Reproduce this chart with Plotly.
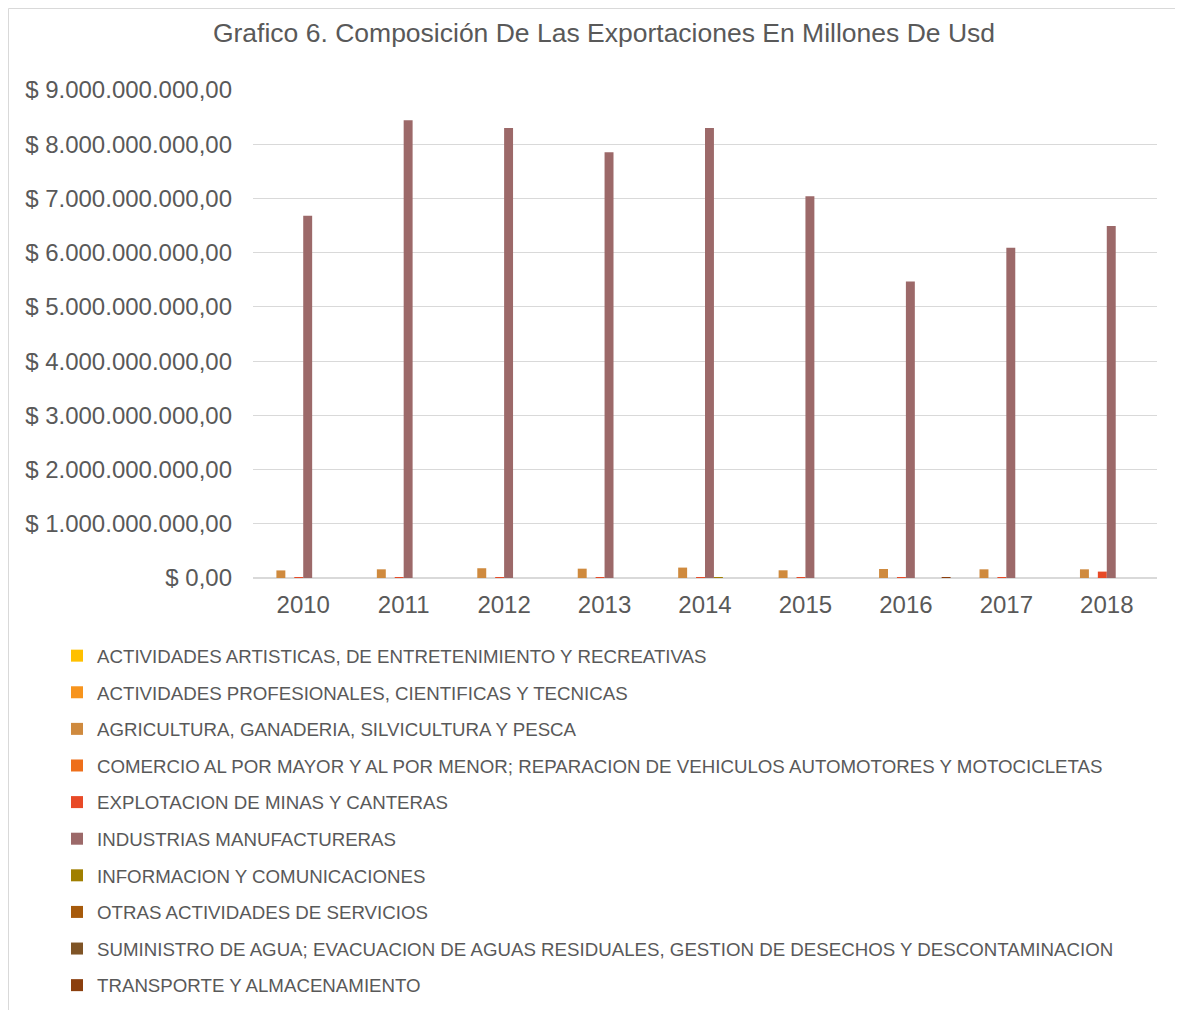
import plotly.graph_objects as go

years = ["2010", "2011", "2012", "2013", "2014", "2015", "2016", "2017", "2018"]

series_names = [
    "ACTIVIDADES ARTISTICAS, DE ENTRETENIMIENTO Y RECREATIVAS",
    "ACTIVIDADES PROFESIONALES, CIENTIFICAS Y TECNICAS",
    "AGRICULTURA, GANADERIA, SILVICULTURA Y PESCA",
    "COMERCIO AL POR MAYOR Y AL POR MENOR; REPARACION DE VEHICULOS AUTOMOTORES Y MOTOCICLETAS",
    "EXPLOTACION DE MINAS Y CANTERAS",
    "INDUSTRIAS MANUFACTURERAS",
    "INFORMACION Y COMUNICACIONES",
    "OTRAS ACTIVIDADES DE SERVICIOS",
    "SUMINISTRO DE AGUA; EVACUACION DE AGUAS RESIDUALES, GESTION DE DESECHOS Y DESCONTAMINACION",
    "TRANSPORTE Y ALMACENAMIENTO",
]

artisticas = [0, 0, 0, 0, 0, 0, 0, 0, 0]
profesionales = [0, 0, 0, 0, 0, 0, 0, 0, 0]
agricultura = [140e6, 160e6, 180e6, 172e6, 192e6, 142e6, 166e6, 160e6, 160e6]
comercio = [0, 0, 0, 0, 0, 0, 0, 0, 0]
explotacion = [14e6, 8e6, 12e6, 14e6, 14e6, 6e6, 18e6, 18e6, 118e6]
industrias = [6.68e9, 8.44e9, 8.30e9, 7.85e9, 8.30e9, 7.04e9, 5.47e9, 6.09e9, 6.49e9]
informacion = [0, 0, 0, 0, 15e6, 0, 0, 0, 0]
otras = [0, 0, 0, 0, 0, 0, 0, 0, 0]
suministro = [0, 0, 0, 0, 0, 0, 0, 0, 0]
transporte = [0, 0, 0, 0, 0, 0, 6e6, 0, 0]

series_values = [artisticas, profesionales, agricultura, comercio, explotacion,
                 industrias, informacion, otras, suministro, transporte]

colors = ["#FFC000", "#F7941D", "#CF8A3E", "#EE6F1A", "#E84A27",
          "#9C6969", "#A07F00", "#A65A0B", "#7F5426", "#8B3F0E"]

tick_vals = [0, 1e9, 2e9, 3e9, 4e9, 5e9, 6e9, 7e9, 8e9, 9e9]
tick_text = ["$ 0,00", "$ 1.000.000.000,00", "$ 2.000.000.000,00", "$ 3.000.000.000,00",
             "$ 4.000.000.000,00", "$ 5.000.000.000,00", "$ 6.000.000.000,00",
             "$ 7.000.000.000,00", "$ 8.000.000.000,00", "$ 9.000.000.000,00"]

FONT = "Liberation Sans, Arial, sans-serif"
GRAY = "#595959"

fig = go.Figure()
for i, (name, vals, col) in enumerate(zip(series_names, series_values, colors)):
    fig.add_trace(go.Bar(x=years, y=vals, name=name, marker_color=col,
                         marker_line_width=0, legendgroup=f"g{i}"))

# page body has an 8px margin: figure coords = screen coords - 8
W, H = 1175, 1002
L, R, T, B = 245, 26, 82, 432
pw, ph = W - L - R, H - T - B
base = H - B  # y of zero line in figure px

fig.update_layout(
    width=W, height=H,
    margin=dict(l=L, r=R, t=T, b=B, autoexpand=False),
    paper_bgcolor="white", plot_bgcolor="white",
    barmode="group", bargap=0.11, bargroupgap=0,
    font=dict(family=FONT, color=GRAY),
    title=dict(text="Grafico 6. Composición De Las Exportaciones En Millones De Usd",
               x=(596 - L) / pw, xref="paper", xanchor="center",
               y=1 - 25 / H, yanchor="middle",
               font=dict(size=26.5, color=GRAY, family=FONT)),
    xaxis=dict(showgrid=False, showline=False, ticks="", ticklabelstandoff=10,
               tickfont=dict(size=24, color=GRAY, family=FONT)),
    yaxis=dict(range=[0, 9e9], tickvals=tick_vals, ticktext=tick_text,
               showgrid=True, gridcolor="#D9D9D9", gridwidth=1,
               zeroline=True, zerolinecolor="#D9D9D9", zerolinewidth=2,
               showline=False, ticks="", ticklabelstandoff=20,
               tickfont=dict(size=24, color=GRAY, family=FONT)),
    legend=dict(orientation="v", x=(49 - L) / pw, xanchor="left",
                y=(base - 629) / ph, yanchor="top",
                font=dict(size=18.7, color=GRAY, family=FONT),
                tracegroupgap=9.3, itemwidth=30, bgcolor="rgba(0,0,0,0)"),
    showlegend=True,
)

# outer chart frame (left and top edges visible)
fig.add_shape(type="line", xref="paper", yref="paper",
              x0=(0.5 - L) / pw, x1=(W - L) / pw, y0=(base - 0.5) / ph, y1=(base - 0.5) / ph,
              line=dict(color="#D9D9D9", width=1))
fig.add_shape(type="line", xref="paper", yref="paper",
              x0=(0.5 - L) / pw, x1=(0.5 - L) / pw, y0=(base - 0.5) / ph, y1=(base - H) / ph,
              line=dict(color="#D9D9D9", width=1))

fig.write_html("out.html")
